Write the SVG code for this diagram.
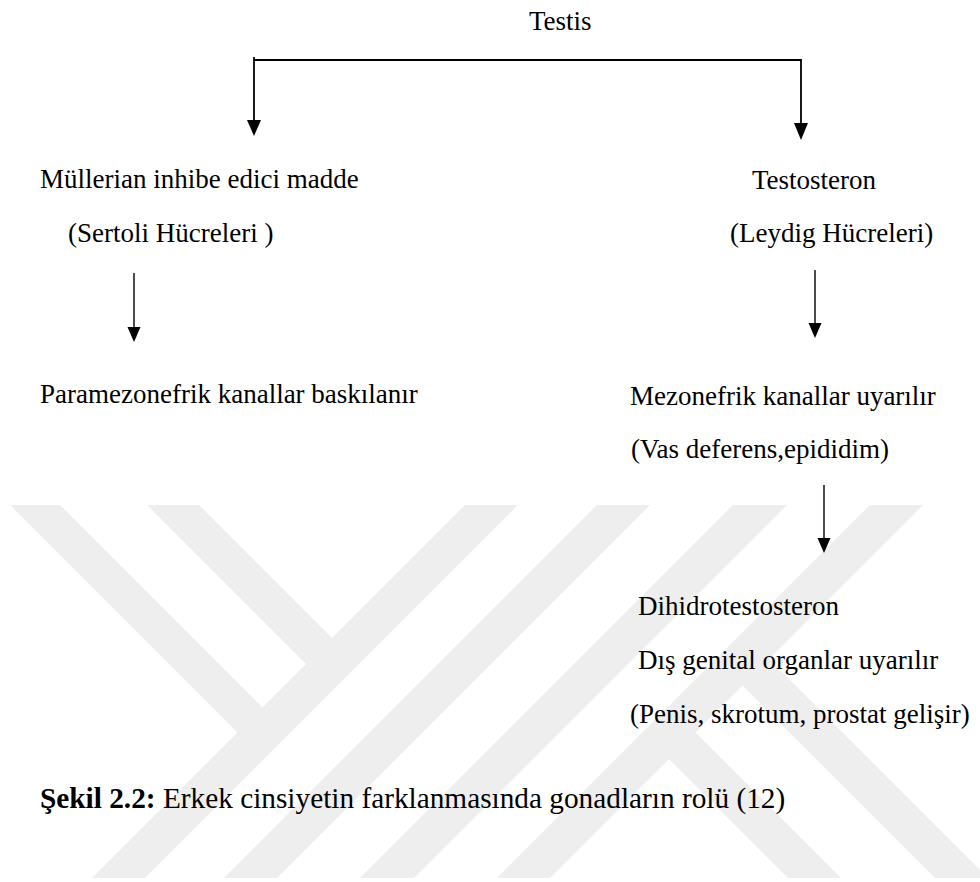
<svg xmlns="http://www.w3.org/2000/svg" width="980" height="882" viewBox="0 0 980 882">
<style>
.t{font-family:"Liberation Serif","Times New Roman",serif;font-size:27px;fill:#000}
.cap{font-family:"Liberation Serif","Times New Roman",serif;font-size:29.3px;fill:#000}
.wm{fill:#eeeeee}
.br{stroke:#000;stroke-width:1.8;fill:none}
.ar{stroke:#000;stroke-width:1.4;fill:none}
.hd{fill:#000}
</style>
<defs>
<clipPath id="wmclip"><rect x="0" y="505" width="980" height="373"/></clipPath>
</defs>
<rect width="980" height="882" fill="#fff"/>
<g id="watermark" clip-path="url(#wmclip)">
<polygon class="wm" points="10,505 60,505 277.5,722.5 252.5,747.5"/>
<polygon class="wm" points="147,505 199,505 347,653 321,679"/>
<polygon class="wm" points="465,505 518,505 145,878 92,878"/>
<polygon class="wm" points="597,505 650,505 277,878 224,878"/>
<polygon class="wm" points="733,505 787,505 414,878 360,878"/>
<polygon class="wm" points="870,505 923,505 550,878 497,878"/>
<polygon class="wm" points="655,745 681.5,718.5 841,878 788,878"/>
<polygon class="wm" points="728.5,671.5 755,645 988,878 935,878"/>
</g>
<g id="connectors">
<polyline class="br" points="254,57 254,60 801,60 801,124"/>
<line class="br" x1="254" y1="60" x2="254" y2="121"/>
<polygon class="hd" points="247,120 261,120 254,136"/>
<polygon class="hd" points="794,123 808,123 801,140"/>
<line class="ar" x1="134" y1="273" x2="134" y2="328"/>
<polygon class="hd" points="127.5,327 140.5,327 134,342"/>
<line class="ar" x1="815" y1="270" x2="815" y2="324"/>
<polygon class="hd" points="808.5,323 821.5,323 815,338"/>
<line class="ar" x1="824" y1="485" x2="824" y2="539"/>
<polygon class="hd" points="817.5,538 830.5,538 824,553"/>
</g>
<g id="n-testis"><text class="t" x="529" y="30">Testis</text></g>
<g id="n-mullerian">
<text class="t" x="40" y="188">Müllerian inhibe edici madde</text>
<text class="t" x="68" y="242">(Sertoli Hücreleri )</text>
</g>
<g id="n-paramezonefrik"><text class="t" x="40" y="403">Paramezonefrik kanallar baskılanır</text></g>
<g id="n-testosteron">
<text class="t" x="752" y="189">Testosteron</text>
<text class="t" x="730" y="242">(Leydig Hücreleri)</text>
</g>
<g id="n-mezonefrik">
<text class="t" x="630" y="405">Mezonefrik kanallar uyarılır</text>
<text class="t" x="631" y="458">(Vas deferens,epididim)</text>
</g>
<g id="n-dht">
<text class="t" x="638" y="615">Dihidrotestosteron</text>
<text class="t" x="638" y="669">Dış genital organlar uyarılır</text>
<text class="t" x="630" y="723">(Penis, skrotum, prostat gelişir)</text>
</g>
<g id="caption"><text class="cap" x="40" y="808"><tspan font-weight="bold">Şekil 2.2:</tspan> Erkek cinsiyetin farklanmasında gonadların rolü (12)</text></g>
</svg>
